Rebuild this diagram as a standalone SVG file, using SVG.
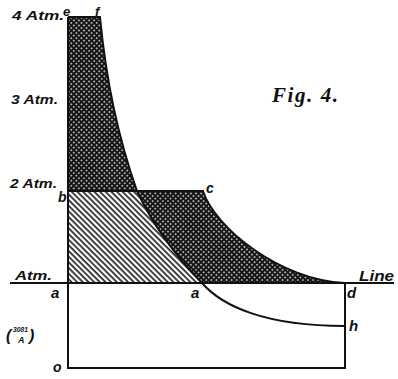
<svg xmlns="http://www.w3.org/2000/svg" width="398" height="379" viewBox="0 0 398 379">
<defs>
<pattern id="cross" width="3.6" height="3.6" patternUnits="userSpaceOnUse" patternTransform="rotate(45)">
<rect width="3.6" height="3.6" fill="#141414"/>
<circle cx="1.8" cy="1.8" r="0.85" fill="#e8e8e8"/>
</pattern>
<pattern id="hatch" width="4" height="4" patternUnits="userSpaceOnUse" patternTransform="rotate(45)">
<rect width="4" height="4" fill="#fff"/>
<rect width="4" height="1.7" fill="#222"/>
</pattern>
<style>
.ln{fill:none;stroke:#111;stroke-width:2}
.lb{font-family:"Liberation Sans",Arial,sans-serif;font-style:italic;font-weight:bold;fill:#111}
.fig{font-family:"Liberation Serif","Times New Roman",serif;font-style:italic;font-weight:bold;fill:#111}
</style>
</defs>
<rect width="398" height="379" fill="#fff"/>
<g id="areas">
<path id="cross-area" d="M68,17 L100,17 Q109,112 137,191 L203,191 C215,228 280,280 345,283 L202,283 Q160,240 137,191 L68,191 Z" fill="url(#cross)"/>
<path id="hatch-area" d="M68,191 L137,191 Q160,240 202,283 L68,283 Z" fill="url(#hatch)"/>
</g>
<g id="connectors">
<path class="ln" d="M68,17 L100,17 Q109,112 137,191"/>
<path class="ln" d="M137,191 Q160,240 202,283"/>
<path class="ln" d="M68,191 L203,191 C215,228 280,280 345,283"/>
<path class="ln" d="M202,283 C222,306 265,326 345,326"/>
<path class="ln" d="M10,283 L394,283"/>
<path class="ln" d="M68,17 L68,368 L345,368 L345,283"/>
</g>
<g id="labels">
<text class="lb" x="12" y="20" font-size="12" textLength="52" lengthAdjust="spacingAndGlyphs">4 Atm.</text>
<text class="lb" x="63" y="16" font-size="13">e</text>
<text class="lb" x="95" y="16" font-size="13">f</text>
<text class="lb" x="11" y="104" font-size="12" textLength="47" lengthAdjust="spacingAndGlyphs">3 Atm.</text>
<text class="lb" x="10" y="188" font-size="12" textLength="47" lengthAdjust="spacingAndGlyphs">2 Atm.</text>
<text class="lb" x="58" y="202" font-size="14">b</text>
<text class="lb" x="206" y="193" font-size="14">c</text>
<text class="lb" x="15" y="280" font-size="12" textLength="37" lengthAdjust="spacingAndGlyphs">Atm.</text>
<text class="lb" x="51" y="298" font-size="15">a</text>
<text class="lb" x="191" y="298" font-size="15">a</text>
<text class="lb" x="347" y="298" font-size="15">d</text>
<text class="lb" x="349" y="331" font-size="15">h</text>
<text class="lb" x="359" y="281" font-size="14" textLength="35" lengthAdjust="spacingAndGlyphs">Line</text>
<text class="lb" x="53" y="372" font-size="14">o</text>
<text class="lb" x="6" y="341" font-size="16">(</text>
<text class="lb" x="13" y="332" font-size="7" textLength="15" lengthAdjust="spacingAndGlyphs">3081</text>
<text class="lb" x="18" y="343" font-size="9">A</text>
<text class="lb" x="29" y="341" font-size="16">)</text>
<text class="fig" x="272" y="102" font-size="21" textLength="66" lengthAdjust="spacing">Fig. 4.</text>
</g>
</svg>
